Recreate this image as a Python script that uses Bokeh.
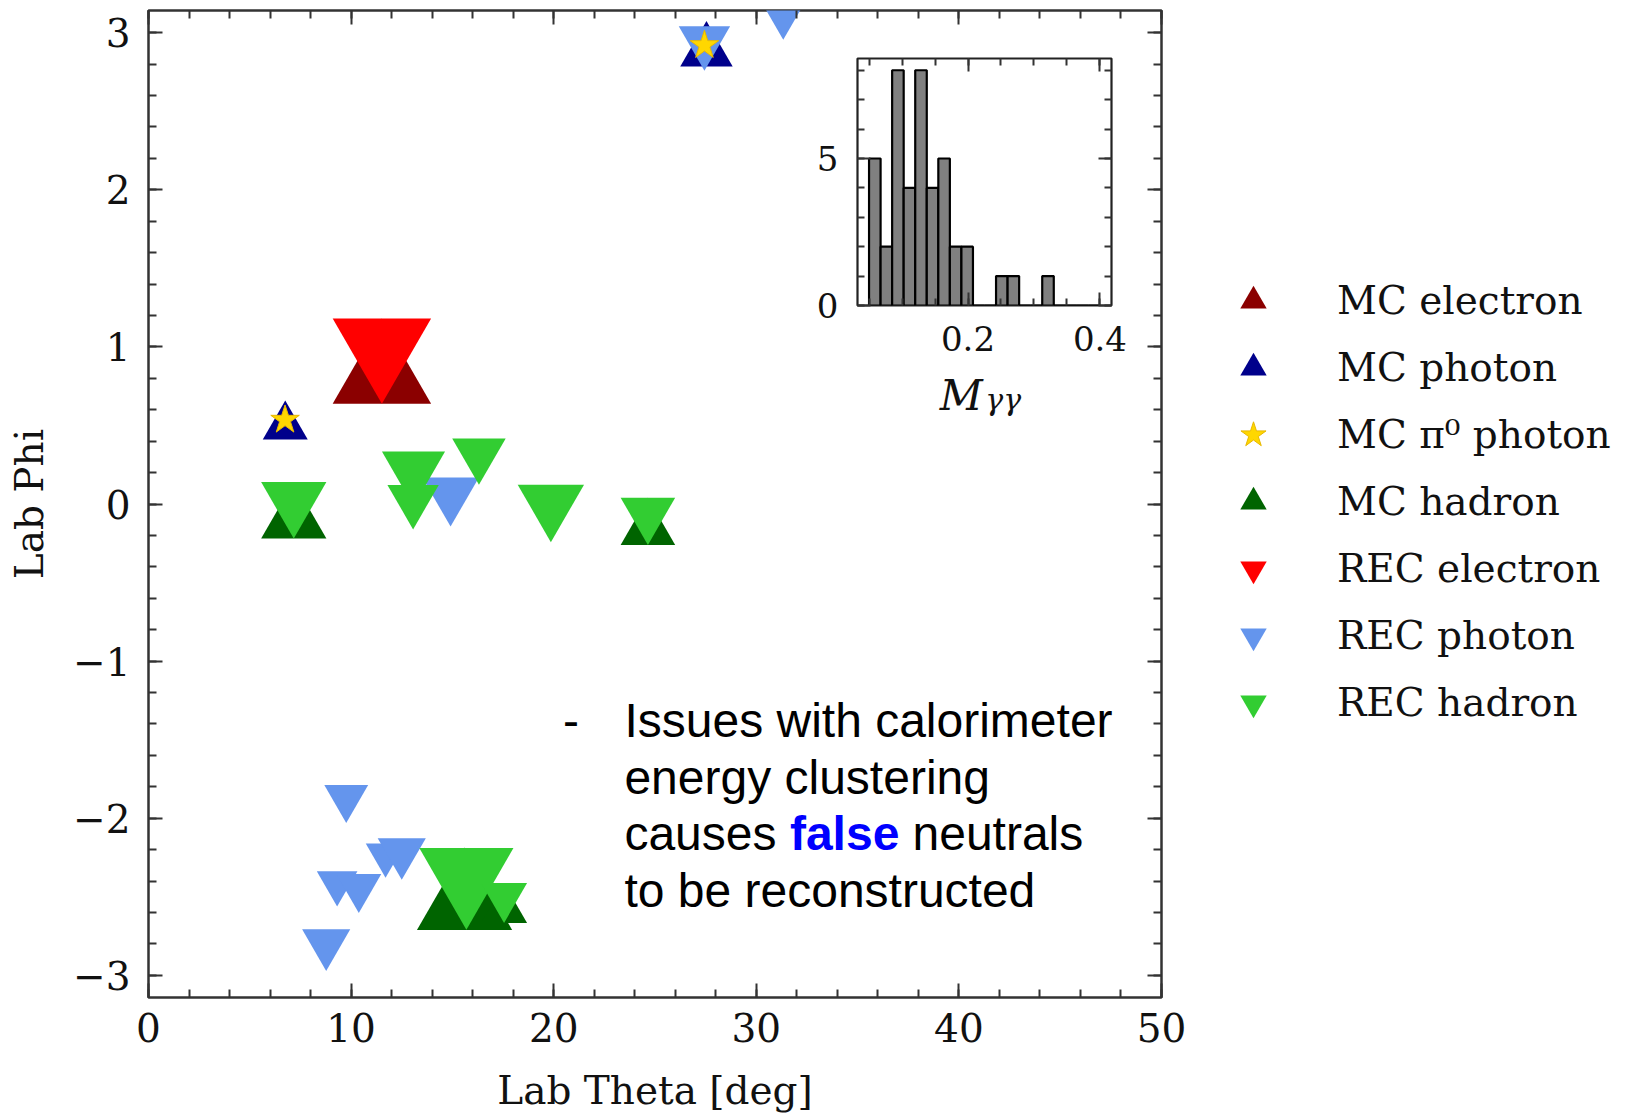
import math
from bokeh.plotting import figure
from bokeh.models import (Legend, LegendItem, Label, LinearAxis, SingleIntervalTicker, Range1d)
from bokeh.embed import file_html
from bokeh.resources import INLINE

# ---------------- data ----------------
mc_electron_theta = [11.52]
mc_electron_phi = [0.91]
mc_electron_size = [92]

mc_photon_theta = [27.54, 6.75]
mc_photon_phi = [2.93, 0.535]
mc_photon_size = [49, 42]

mc_pi0_theta = [27.44, 6.74]
mc_pi0_phi = [2.92, 0.535]
mc_pi0_size = [30, 30]

mc_hadron_theta = [7.17, 24.65, 15.60, 17.55]
mc_hadron_phi = [-0.04, -0.11, -2.45, -2.54]
mc_hadron_size = [61, 51, 89, 43]

rec_electron_theta = [11.52]
rec_electron_phi = [0.91]
rec_electron_size = [92]

rec_photon_theta = [27.44, 31.33, 14.91, 9.76, 8.77, 9.31, 10.38, 11.70, 12.50]
rec_photon_phi = [2.90, 3.085, 0.013, -1.91, -2.84, -2.45, -2.48, -2.27, -2.26]
rec_photon_size = [48, 44, 53, 41, 45, 38, 42, 37, 45]

rec_hadron_theta = [7.17, 13.08, 13.06, 16.31, 19.86, 24.65, 15.69, 17.55]
rec_hadron_phi = [-0.04, 0.16, -0.02, 0.27, -0.06, -0.11, -2.45, -2.54]
rec_hadron_size = [61, 59, 48, 50, 62, 51, 88, 43]

legend_labels = ["MC electron", "MC photon", "MC \u03c0\u2070 photon", "MC hadron",
                 "REC electron", "REC photon", "REC hadron"]

# inset: M_gamma-gamma histogram
mgg_bin_edges = [0.05, 0.0675, 0.085, 0.1025, 0.12, 0.1375, 0.155, 0.1725, 0.19, 0.2075,
                 0.225, 0.2425, 0.26, 0.2775, 0.295, 0.3125, 0.33, 0.3475, 0.365, 0.3825, 0.4]
mgg_counts = [5, 2, 8, 4, 8, 4, 5, 2, 2, 0, 0, 1, 1, 0, 0, 1, 0, 0, 0, 0]

x_ticks_major = 10
y_ticks_major = 1

# ---------------- styles ----------------
SERIF = "DejaVu Serif"
SANS = "Liberation Sans"
AX_COLOR = "#333333"
TXT_COLOR = "#111111"
FRAME_W, FRAME_H = 1013, 987
Y0, Y1 = -math.pi, math.pi
PX_PER_PHI = FRAME_H / (Y1 - Y0)
SIZE_SCALE = 1.07

C_MCE, C_MCP, C_PI0, C_MCH = "#8B0000", "#00008B", "#FFD700", "#006400"
C_RCE, C_RCP, C_RCH = "#FF0000", "#6495ED", "#32CD32"


def tri_y(phi, sizes, up):
    # Bokeh draws triangles around their centroid; shift so the marker box is centred on the value
    sign = -1 if up else 1
    return [v + sign * 0.866 * s * SIZE_SCALE / 6.0 / PX_PER_PHI for v, s in zip(phi, sizes)]


def sz(sizes):
    return [s * SIZE_SCALE for s in sizes]


def style_axis(ax, major_in, minor_in, lw=2):
    ax.axis_line_color = None
    ax.major_tick_in = major_in
    ax.major_tick_out = 0
    ax.minor_tick_in = minor_in
    ax.minor_tick_out = 0
    ax.major_tick_line_color = AX_COLOR
    ax.minor_tick_line_color = AX_COLOR
    ax.major_tick_line_width = lw
    ax.minor_tick_line_width = lw


def hide_labels(ax):
    ax.major_label_text_color = None
    ax.major_label_text_font_size = "1px"
    ax.major_label_standoff = 0


# ---------------- main figure ----------------
p = figure(frame_width=FRAME_W, frame_height=FRAME_H,
           x_range=Range1d(0, 50), y_range=Range1d(Y0, Y1),
           min_border_left=148, min_border_top=10, min_border_right=475, min_border_bottom=112,
           output_backend="svg", toolbar_location=None)
p.grid.visible = False
p.outline_line_color = AX_COLOR
p.outline_line_width = 2.5
p.background_fill_color = "white"
p.border_fill_color = "white"

xa = p.xaxis[0]
ya = p.yaxis[0]
xa.ticker = SingleIntervalTicker(interval=x_ticks_major, num_minor_ticks=5)
ya.ticker = SingleIntervalTicker(interval=y_ticks_major, num_minor_ticks=5)
for ax in (xa, ya):
    style_axis(ax, 14, 8)
    ax.major_label_text_font = SERIF
    ax.major_label_text_font_size = "39px"
    ax.major_label_text_color = TXT_COLOR
    ax.axis_label_text_font = SERIF
    ax.axis_label_text_font_size = "39px"
    ax.axis_label_text_font_style = "normal"
    ax.axis_label_text_color = TXT_COLOR
xa.major_label_standoff = 15
ya.major_label_standoff = 18
ya.major_label_overrides = {-3: "\u22123", -2: "\u22122", -1: "\u22121"}
xa.axis_label = "Lab Theta [deg]"
ya.axis_label = "Lab Phi"
xa.axis_label_standoff = 23
ya.axis_label_standoff = 18

top_ax = LinearAxis(ticker=SingleIntervalTicker(interval=x_ticks_major, num_minor_ticks=5))
right_ax = LinearAxis(ticker=SingleIntervalTicker(interval=y_ticks_major, num_minor_ticks=5))
for ax in (top_ax, right_ax):
    style_axis(ax, 14, 8)
    hide_labels(ax)
p.add_layout(top_ax, "above")
p.add_layout(right_ax, "right")

# markers
p.scatter(mc_electron_theta, tri_y(mc_electron_phi, mc_electron_size, True),
          size=sz(mc_electron_size), marker="triangle", fill_color=C_MCE, line_color=None)
p.scatter(mc_photon_theta, tri_y(mc_photon_phi, mc_photon_size, True),
          size=sz(mc_photon_size), marker="triangle", fill_color=C_MCP, line_color=None)
p.scatter(mc_hadron_theta, tri_y(mc_hadron_phi, mc_hadron_size, True),
          size=sz(mc_hadron_size), marker="triangle", fill_color=C_MCH, line_color=None)
p.scatter(rec_electron_theta, tri_y(rec_electron_phi, rec_electron_size, False),
          size=sz(rec_electron_size), marker="inverted_triangle", fill_color=C_RCE, line_color=None)
p.scatter(rec_photon_theta, tri_y(rec_photon_phi, rec_photon_size, False),
          size=sz(rec_photon_size), marker="inverted_triangle", fill_color=C_RCP, line_color=None)
p.scatter(rec_hadron_theta, tri_y(rec_hadron_phi, rec_hadron_size, False),
          size=sz(rec_hadron_size), marker="inverted_triangle", fill_color=C_RCH, line_color=None)
p.scatter(mc_pi0_theta, mc_pi0_phi, size=mc_pi0_size, marker="star",
          fill_color=C_PI0, line_color="#E8B800", line_width=1)

# annotation text
ANN = dict(text_font=SANS, text_font_size="48px", text_color="black", text_baseline="alphabetic")
p.add_layout(Label(x=20.46, y=-1.378, text="-", **ANN))
p.add_layout(Label(x=23.49, y=-1.378, text="Issues with calorimeter", **ANN))
p.add_layout(Label(x=23.49, y=-1.738, text="energy clustering", **ANN))
p.add_layout(Label(x=23.49, y=-2.098, text="causes", **ANN))
p.add_layout(Label(x=31.66, y=-2.098, text="false", text_font=SANS, text_font_size="48px",
                   text_font_style="bold", text_color="#0000FF", text_baseline="alphabetic"))
p.add_layout(Label(x=37.71, y=-2.098, text="neutrals", **ANN))
p.add_layout(Label(x=23.49, y=-2.458, text="to be reconstructed", **ANN))

# inset axis title (drawn in the main plot area, under the inset)
p.add_layout(Label(x=39.05, y=0.691, text="M", text_font=SERIF, text_font_size="42px",
                   text_font_style="italic", text_color=TXT_COLOR, text_baseline="alphabetic"))
p.add_layout(Label(x=41.30, y=0.665, text="\u03b3\u03b3", text_font=SERIF, text_font_size="30px",
                   text_font_style="italic", text_color=TXT_COLOR, text_baseline="alphabetic"))

# ---------------- inset figure ----------------
inset = figure(frame_width=254, frame_height=247,
               x_range=Range1d(0.0325, 0.4175), y_range=Range1d(0, 8.4),
               min_border_left=77, min_border_right=40, min_border_top=8, min_border_bottom=90,
               output_backend="svg", toolbar_location=None,
               background_fill_color="white", border_fill_color=None,
               styles={"position": "absolute", "left": "780px", "top": "50px"})
inset.grid.visible = False
inset.outline_line_color = "#222222"
inset.outline_line_width = 2.2
ix = inset.xaxis[0]
iy = inset.yaxis[0]
ix.ticker = SingleIntervalTicker(interval=0.2, num_minor_ticks=4)
iy.ticker = SingleIntervalTicker(interval=5, num_minor_ticks=5)
for ax in (ix, iy):
    style_axis(ax, 13, 7)
    ax.major_label_text_font = SERIF
    ax.major_label_text_font_size = "34px"
    ax.major_label_text_color = TXT_COLOR
ix.major_label_standoff = 20
iy.major_label_standoff = 19
i_top = LinearAxis(ticker=SingleIntervalTicker(interval=0.2, num_minor_ticks=4))
i_right = LinearAxis(ticker=SingleIntervalTicker(interval=5, num_minor_ticks=5))
for ax in (i_top, i_right):
    style_axis(ax, 13, 7)
    hide_labels(ax)
inset.add_layout(i_top, "above")
inset.add_layout(i_right, "right")

inset.quad(left=mgg_bin_edges[:-1], right=mgg_bin_edges[1:], bottom=0, top=mgg_counts,
           fill_color="#808080", line_color="black", line_width=2.2)

# ---------------- legend (its own small canvas to the right of the axes) ----------------
leg = figure(width=416, height=480, x_range=Range1d(0, 1), y_range=Range1d(0, 1),
             min_border=0, output_backend="svg", toolbar_location=None,
             x_axis_location=None, y_axis_location=None,
             outline_line_color=None, background_fill_color=None, border_fill_color=None,
             styles={"position": "absolute", "left": "1220px", "top": "267px"})
leg.grid.visible = False
leg_markers = ["triangle", "triangle", "star", "triangle",
               "inverted_triangle", "inverted_triangle", "inverted_triangle"]
leg_colors = [C_MCE, C_MCP, C_PI0, C_MCH, C_RCE, C_RCP, C_RCH]
items = []
for lab, mk, col in zip(legend_labels, leg_markers, leg_colors):
    # one proxy point placed outside the visible range: only its legend swatch is seen
    r = leg.scatter(x=[5], y=[5], marker=mk, fill_color=col,
                    line_color=("#E8B800" if mk == "star" else None), size=10)
    items.append(LegendItem(label=lab, renderers=[r]))
legend = Legend(items=items, location="top_left")
legend.glyph_width = 66
legend.glyph_height = 67
legend.spacing = 0
legend.padding = 0
legend.margin = 0
legend.label_standoff = 51
legend.border_line_color = None
legend.background_fill_alpha = 0
legend.label_text_font = SERIF
legend.label_text_font_size = "39px"
legend.label_text_color = TXT_COLOR
leg.add_layout(legend)

open("out.html", "w").write(file_html([p, inset, leg], INLINE, title="Lab Theta vs Lab Phi"))
